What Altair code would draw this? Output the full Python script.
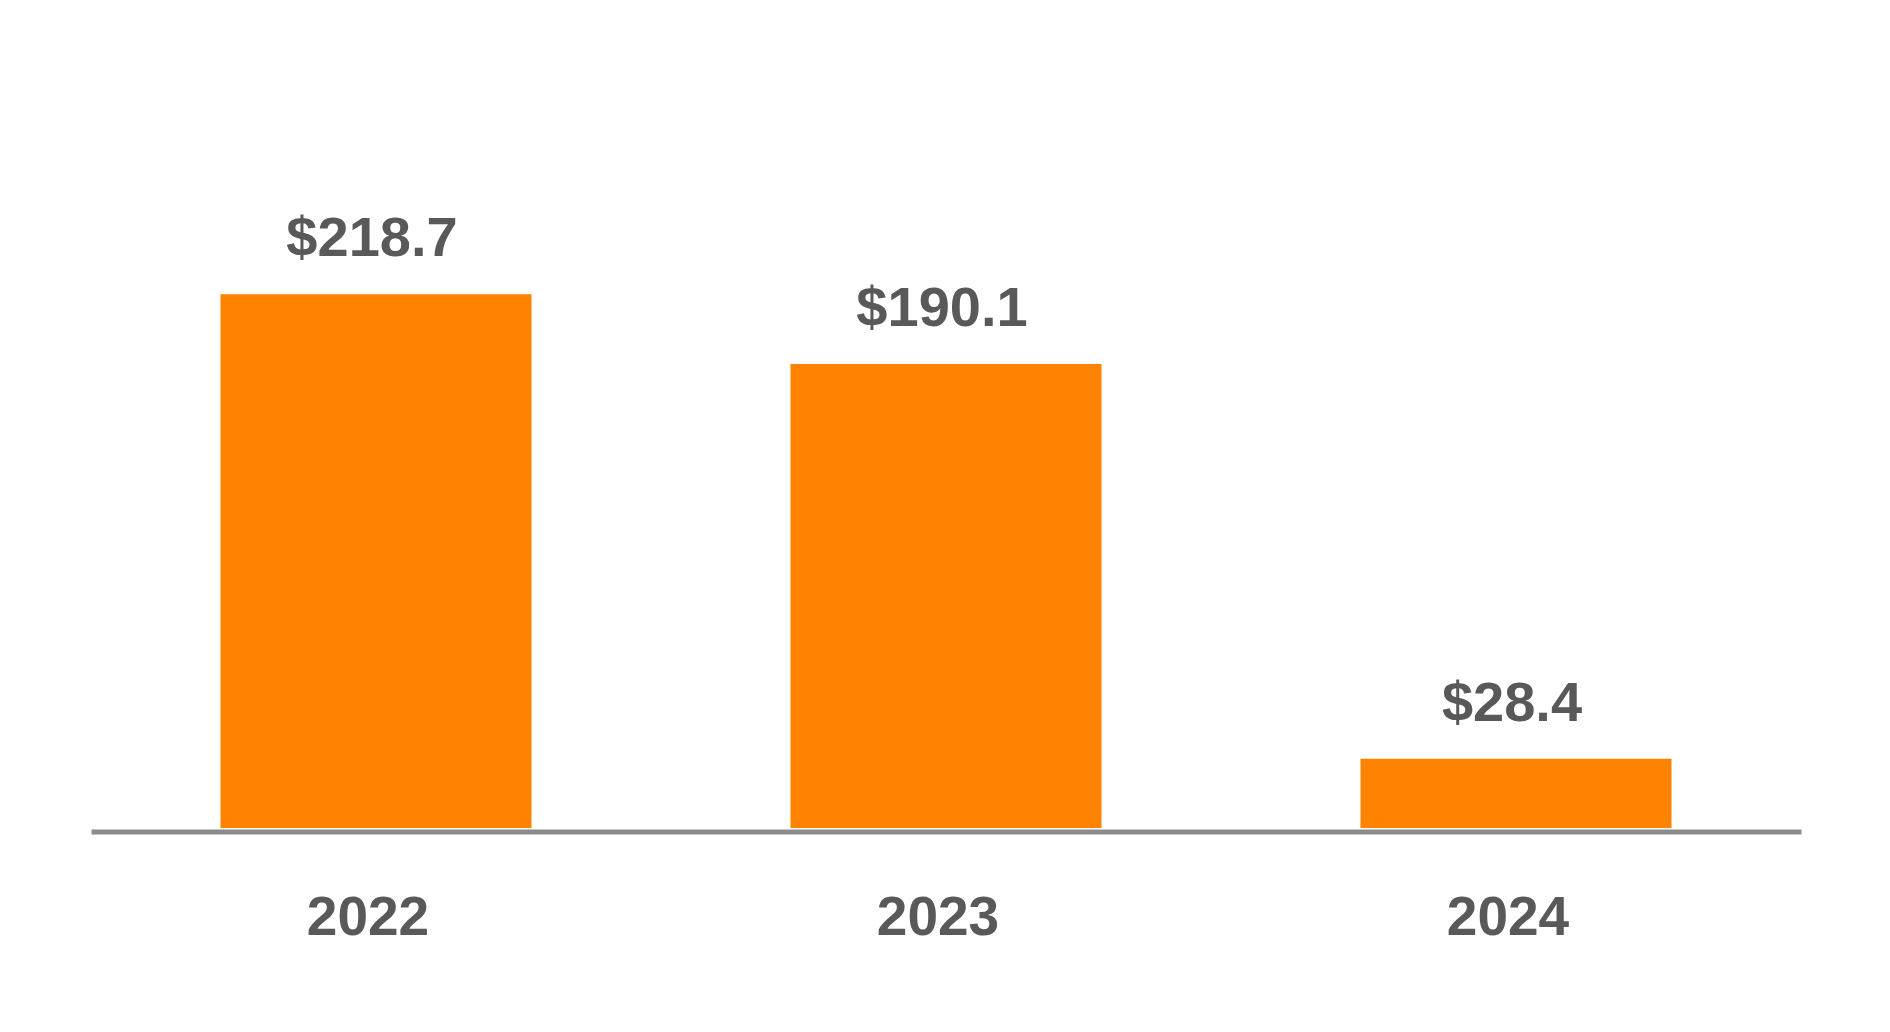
import altair as alt
import pandas as pd

years = ["2022", "2023", "2024"]
values = [218.7, 190.1, 28.4]
labels = ["$218.7", "$190.1", "$28.4"]

df = pd.DataFrame({"year": years, "value": values, "label": labels})

FONT = "Liberation Sans"
TEXT = "#595959"

x = alt.X(
    "year:N",
    sort=years,
    scale=alt.Scale(paddingInner=0.4544, paddingOuter=0.2272),
    axis=alt.Axis(
        title=None,
        labelAngle=0,
        ticks=False,
        tickSize=0,
        domainColor="#8C8C8C",
        domainWidth=5,
        offset=3.5,
        labelFont=FONT,
        labelFontSize=55,
        labelFontWeight="bold",
        labelColor=TEXT,
        labelBaseline="alphabetic",
        labelPadding=102.5,
        labelOffset=-8,
        grid=False,
    ),
)
y = alt.Y("value:Q", scale=alt.Scale(domain=[0, 320], nice=False, zero=True), axis=None)

bars = alt.Chart(df).mark_bar(color="#FF8200").encode(x=x, y=y)
text = alt.Chart(df).mark_text(
    font=FONT, fontSize=56, fontWeight="bold", color=TEXT,
    baseline="alphabetic", align="center", dy=-38, dx=-4,
).encode(x=alt.X("year:N", sort=years), y=y, text="label:N")

chart = (
    alt.layer(bars, text)
    .properties(
        width=1710,
        height=781,
        background="white",
        autosize=alt.AutoSizeParams(type="none"),
        padding={"left": 83, "top": 39, "right": 60, "bottom": 150},
    )
    .configure_view(strokeWidth=0, stroke=None)
)

chart.save("out.html", embed_options={"renderer": "svg", "actions": False})
